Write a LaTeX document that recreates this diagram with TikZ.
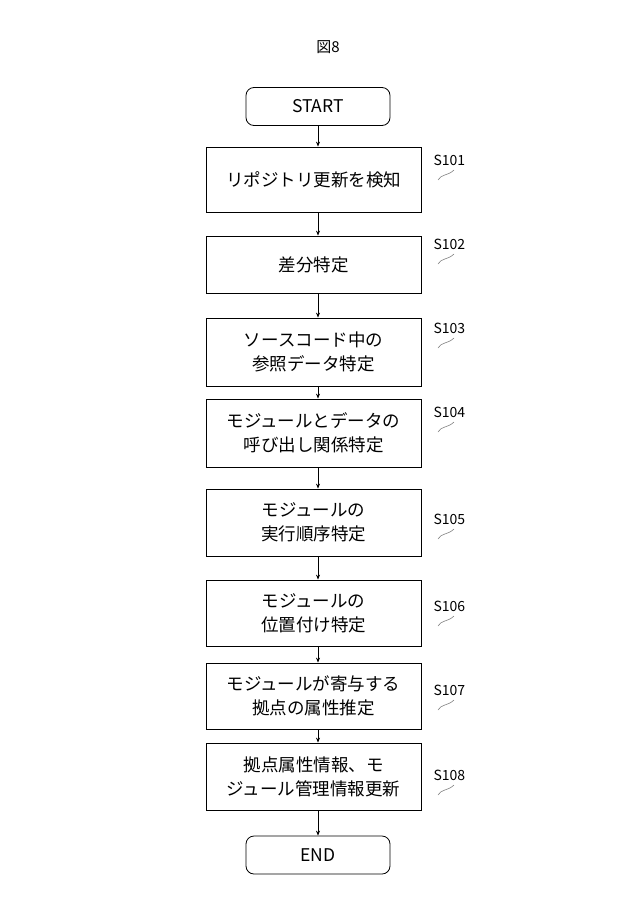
\documentclass[tikz,border=0pt]{standalone}
\usepackage{fontspec}
\setmainfont{Noto Sans CJK JP}
\usetikzlibrary{arrows.meta}
\begin{document}
\begin{tikzpicture}[x=1pt,y=-1pt,
  box/.style={draw,line width=0.8pt,minimum width=215pt,align=center,font=\fontsize{17.5}{24}\selectfont,inner sep=0pt},
  term/.style={draw,line width=0.8pt,rounded corners=8pt,minimum width=144pt,minimum height=38pt,font=\fontsize{17.5}{20}\selectfont},
  lab/.style={font=\fontsize{14}{16}\selectfont,anchor=west},
  arr/.style={-{Stealth[length=5pt,width=4pt]},line width=0.7pt}]
\useasboundingbox (0,0) rectangle (640,900);
\node[font=\fontsize{15}{17}\selectfont] (t) at (328,47) {図8};
\node[term] (st) at (318,106.5) {START};
\node[box,minimum height=65pt] (s1) at (313.5,179.5) {リポジトリ更新を検知};
\node[box,minimum height=57pt] (s2) at (313.5,264.5) {差分特定};
\node[box,minimum height=68pt] (s3) at (313.5,352) {ソースコード中の\\参照データ特定};
\node[box,minimum height=68pt] (s4) at (313.5,433) {モジュールとデータの\\呼び出し関係特定};
\node[box,minimum height=67pt] (s5) at (313.5,522.5) {モジュールの\\実行順序特定};
\node[box,minimum height=66pt] (s6) at (313.5,613) {モジュールの\\位置付け特定};
\node[box,minimum height=66pt] (s7) at (313.5,696) {モジュールが寄与する\\拠点の属性推定};
\node[box,minimum height=67pt] (s8) at (313.5,776.5) {拠点属性情報、モ\\ジュール管理情報更新};
\node[term] (en) at (318,855) {END};
\foreach \a/\b in {st/s1,s1/s2,s2/s3,s3/s4,s4/s5,s5/s6,s6/s7,s7/s8,s8/en}
  \draw[arr] (\a.south -| st.south) -- (\b.north -| st.south);
\foreach \n/\y in {1/160,2/244,3/328,4/412,5/519,6/606,7/690,8/775}{
  \node[lab] (l\n) at (430,\y) {S10\n};
  \draw[gray,line width=0.6pt] (438,\y+20) .. controls (441,\y+14) and (448,\y+16) .. (454,\y+10);
}
\end{tikzpicture}
\end{document}
